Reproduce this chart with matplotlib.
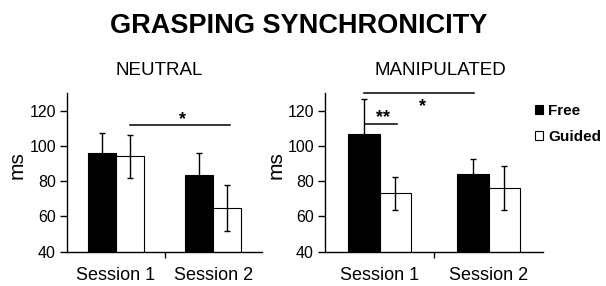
import matplotlib
matplotlib.use("Agg")
import matplotlib.pyplot as plt
import numpy as np

plt.rcParams['font.family'] = ['Liberation Sans', 'DejaVu Sans']

sessions = ["Session 1", "Session 2"]
conditions = ["Free", "Guided"]

neutral_free = [96.2, 83.5]
neutral_free_err = [11.0, 12.7]
neutral_guided = [94.1, 64.8]
neutral_guided_err = [12.2, 13.2]

manip_free = [106.6, 84.3]
manip_free_err = [20.0, 8.3]
manip_guided = [73.1, 76.3]
manip_guided_err = [9.5, 12.5]

# significance annotations: (x_start, x_end, line_y, star_x, star_y, label)
neutral_sig = [(0.143, 1.17, 111.9, 0.68, 115.0, "*")]
manip_sig = [(-0.13, 0.16, 112.8, 0.03, 116.0, "**"),
             (-0.142, 0.867, 129.9, 0.39, 122.5, "*")]

W, H = 606, 286
fig = plt.figure(figsize=(W / 100, H / 100), dpi=100)

bottom = 1 - 251.7 / H
height = (251.7 - 93.3) / H
ax1 = fig.add_axes([67 / W, bottom, 195 / W, height])
ax2 = fig.add_axes([325 / W, bottom, 218 / W, height])

bw = 0.286
x = np.arange(len(sessions))


def draw(ax, free, free_err, guided, guided_err, sigs):
    b1 = ax.bar(x - bw / 2, free, bw, color="black", edgecolor="black", linewidth=0.8,
                yerr=free_err, error_kw=dict(ecolor="black", elinewidth=1.0, capsize=2, capthick=1.0),
                label="Free", zorder=2)
    b2 = ax.bar(x + bw / 2, guided, bw, color="white", edgecolor="black", linewidth=0.8,
                yerr=guided_err, error_kw=dict(ecolor="black", elinewidth=1.0, capsize=2, capthick=1.0),
                label="Guided", zorder=2)
    ax.set_ylim(40, 130)
    ax.set_xlim(-0.5, 1.5)
    ax.set_yticks([40, 60, 80, 100, 120])
    ax.set_xticks(x)
    ax.set_xticklabels(sessions, fontsize=13)
    ax.set_xticks([0.5], minor=True)
    ax.tick_params(axis="x", which="major", length=0, pad=11)
    ax.tick_params(axis="x", which="minor", length=4, width=1, direction="out")
    ax.tick_params(axis="y", length=5, width=1, direction="out", labelsize=11.5, pad=3)
    for s in ["top", "right"]:
        ax.spines[s].set_visible(False)
    for s in ["left", "bottom"]:
        ax.spines[s].set_linewidth(1.0)
    for (xs, xe, ly, sx, sy, lab) in sigs:
        ax.plot([xs, xe], [ly, ly], color="black", lw=1.1, clip_on=False)
        ax.text(sx, sy, lab, ha="center", va="center", fontsize=13, fontweight="bold")
    return b1, b2


draw(ax1, neutral_free, neutral_free_err, neutral_guided, neutral_guided_err, neutral_sig)
b1, b2 = draw(ax2, manip_free, manip_free_err, manip_guided, manip_guided_err, manip_sig)

fig.text(17.5 / W, 1 - 165 / H, "ms", rotation=90, ha="center", va="center", fontsize=15)
fig.text(276 / W, 1 - 165 / H, "ms", rotation=90, ha="center", va="center", fontsize=15)

fig.text(299 / W, 1 - 33 / H, "GRASPING SYNCHRONICITY", ha="center", va="baseline",
         fontsize=19.5, fontweight="bold")
fig.text(159 / W, 1 - 75 / H, "NEUTRAL", ha="center", va="baseline", fontsize=13.5)
fig.text(440 / W, 1 - 75 / H, "MANIPULATED", ha="center", va="baseline", fontsize=13.5)

fig.legend([b1, b2], conditions, loc="upper left", bbox_to_anchor=(535 / W, 1 - 104 / H),
           frameon=False, borderaxespad=0, borderpad=0, handlelength=0.55, handleheight=0.55,
           handletextpad=0.3, labelspacing=0.8, prop=dict(weight="bold", size=11))

fig.savefig("out.png", dpi=100)
